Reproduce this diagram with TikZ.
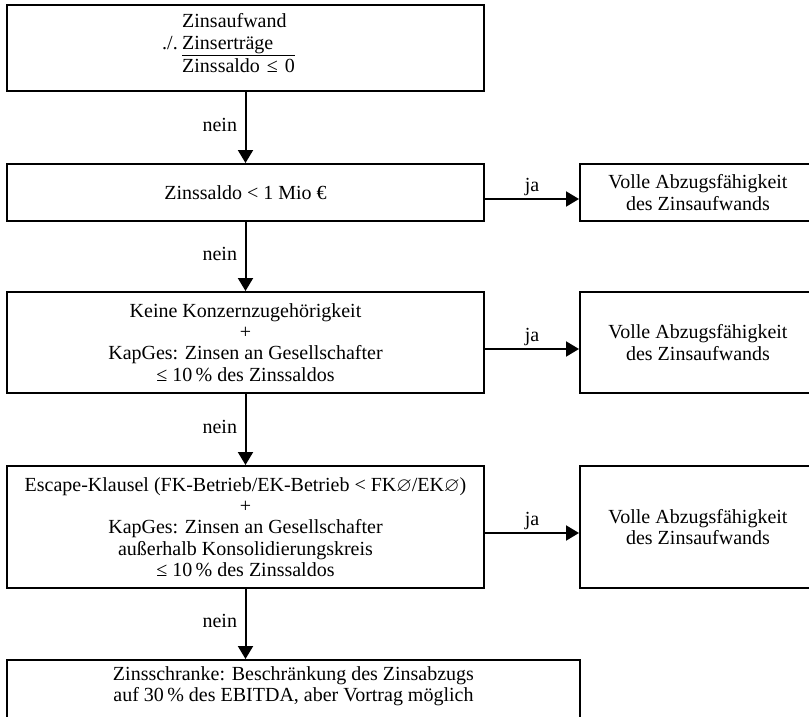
\documentclass[tikz,border=0pt]{standalone}
\usepackage{fontspec}
\usepackage{amssymb}
\setmainfont{Liberation Serif}
\usetikzlibrary{arrows.meta}
\newcommand\diagfont{\fontsize{20}{21.3}\selectfont}
\begin{document}
\begin{tikzpicture}[x=1pt,y=-1pt,
  box/.style={draw,line width=2pt,inner sep=0pt,align=center,font=\diagfont},
  txt/.style={inner sep=0pt,align=center,font=\diagfont},
  arr/.style={line width=2pt,-{Triangle[length=13pt,width=15pt]}},
  nein/.style={anchor=base east,inner sep=0pt,font=\diagfont,xshift=-7.5pt,yshift=-3.5pt},
  ja/.style={anchor=base,inner sep=0pt,font=\diagfont,yshift=8pt}]
\useasboundingbox (0,0) rectangle (809,716);
\clip (0,0) rectangle (809,716);
% box 1
\node[box,minimum width=477pt,minimum height=86pt] (b1) at (245.5,48) {};
\node[txt,anchor=base west] (z1) at (182,27.5) {Zinsaufwand};
\node[txt,anchor=base east] (zm) at (178,49.5) {./.};
\node[txt,anchor=base west] (z2) at (182,49.5) {Zinserträge};
\node[txt,anchor=base west] (z3) at (182,72.5) {Zinssaldo\hspace{7pt}≤\hspace{7pt}0};
\draw[line width=1.6pt] ([yshift=3pt]z3.north west) -- ([yshift=3pt]z3.north east);
% main column
\node[box,minimum width=477pt,minimum height=57pt] (b2) at (245.5,192.5) {Zinssaldo < 1 Mio €};
\node[box,minimum width=477pt,minimum height=101pt] (b3) at (245.5,342.5)
  {Keine Konzernzugehörigkeit\\+\\KapGes: Zinsen an Gesellschafter\\≤ 10\,\% des Zinssaldos};
\node[box,minimum width=477pt,minimum height=122pt] (b4) at (245.5,527)
  {Escape-Klausel (FK-Betrieb/EK-Betrieb < FK$\varnothing$/EK$\varnothing$)\\+\\KapGes: Zinsen an Gesellschafter\\außerhalb Konsolidierungskreis\\≤ 10\,\% des Zinssaldos};
\node[box,minimum width=573pt,minimum height=80pt] (b5) at (293.5,700) {};
\node[txt] (t5) at (293.5,686) {Zinsschranke: Beschränkung des Zinsabzugs\\auf 30\,\% des EBITDA, aber Vortrag möglich};
% right column
\node[box,minimum width=236pt,minimum height=57pt] (r1) at (698,192.5) {Volle Abzugsfähigkeit\\des Zinsaufwands};
\node[box,minimum width=236pt,minimum height=101pt] (r2) at (698,342.5) {Volle Abzugsfähigkeit\\des Zinsaufwands};
\node[box,minimum width=236pt,minimum height=122pt] (r3) at (698,527) {Volle Abzugsfähigkeit\\des Zinsaufwands};
% connectors
\draw[arr] (b1.south) -- node[nein]{nein} (b2.north);
\draw[arr] (b2.south) -- node[nein]{nein} (b3.north);
\draw[arr] (b3.south) -- node[nein]{nein} (b4.north);
\draw[arr] (b4.south) -- node[nein]{nein} (b4.south |- b5.north);
\draw[arr] ([yshift=-6.5pt]b2.east) -- node[ja]{ja} ([yshift=-6.5pt]r1.west);
\draw[arr] ([yshift=-6.5pt]b3.east) -- node[ja]{ja} ([yshift=-6.5pt]r2.west);
\draw[arr] ([yshift=-6pt]b4.east) -- node[ja]{ja} ([yshift=-6pt]r3.west);
\end{tikzpicture}
\end{document}
